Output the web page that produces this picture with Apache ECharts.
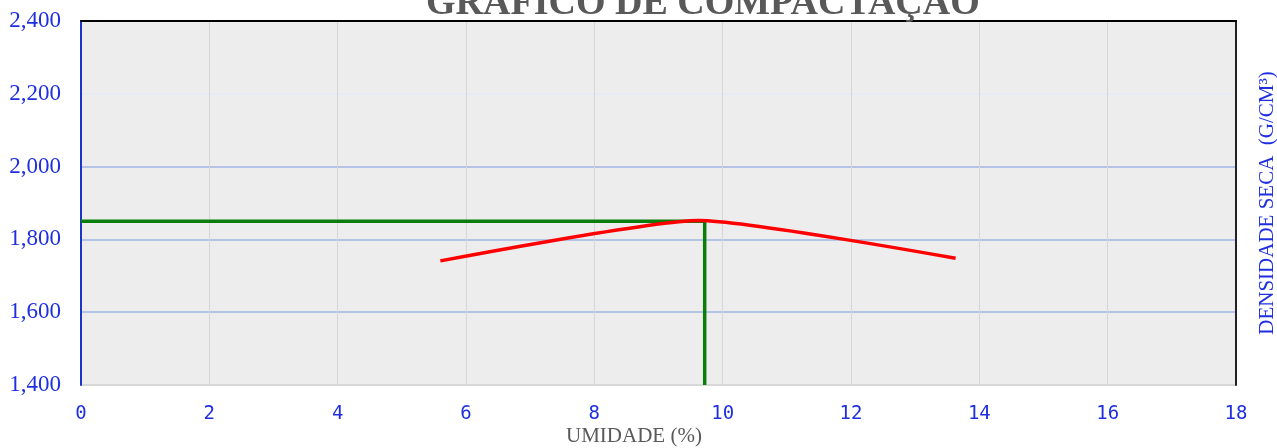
<!DOCTYPE html>
<html>
<head>
<meta charset="utf-8">
<script src="https://cdn.jsdelivr.net/npm/echarts@6/dist/echarts.min.js"></script>
<style>html,body{margin:0;padding:0;background:#fff;}#c{width:1277px;height:448px;}</style>
</head>
<body>
<div id="c"></div>
<script>
// Data
const umidade = [5.6, 9.63, 13.63];
const densidade = [1741, 1852, 1748];
const umidadeOtima = 9.72;
const densidadeMax = 1850;
const xTicks = [0, 2, 4, 6, 8, 10, 12, 14, 16, 18];
const yTicks = [1400, 1600, 1800, 2000, 2200, 2400];
const titleText = 'GRÁFICO DE COMPACTAÇÃO';
const xName = 'UMIDADE (%)';
const yName = 'DENSIDADE SECA  (G/CM³)';

const curve = umidade.map((u, i) => [u, densidade[i]]);
const hLine = [[xTicks[0], densidadeMax], [umidadeOtima, densidadeMax]];
const vLine = [[umidadeOtima, yTicks[0]], [umidadeOtima, densidadeMax]];

const blue = '#1f2fe0';
const chart = echarts.init(document.getElementById('c'));
chart.setOption({
  backgroundColor: '#ffffff',
  animation: false,
  title: {
    text: titleText, left: 421, top: -20,
    textStyle: { fontFamily: 'Liberation Serif', fontWeight: 'bold', fontSize: 38, color: '#595959' }
  },
  grid: { left: 81, right: 41, top: 21, bottom: 63, show: true, backgroundColor: '#ededed', borderWidth: 0, outerBoundsMode: 'none', containLabel: false },
  graphic: [{
    type: 'text', left: 566, top: 426,
    style: { text: xName, font: '21px "Liberation Serif"', fill: '#595959' }
  }],
  xAxis: [{
    type: 'value', min: 0, max: 18, interval: 2,
    axisLine: { show: false }, axisTick: { show: false },
    axisLabel: { margin: 20, color: blue, fontFamily: 'DejaVu Sans Mono', fontSize: 19 },
    splitLine: { show: true, lineStyle: { color: '#d6d6d6', width: 1 } }
  }, {
    type: 'value', position: 'top', min: 0, max: 18,
    axisLine: { show: true, onZero: false, lineStyle: { color: '#000', width: 2 } },
    axisTick: { show: false }, axisLabel: { show: false }, splitLine: { show: false }
  }],
  yAxis: [{
    type: 'value', min: 1400, max: 2400, interval: 200,
    axisLine: { show: true, onZero: false, lineStyle: { color: '#1a35c8', width: 2 } },
    axisTick: { show: false },
    axisLabel: {
      margin: 20, color: blue, fontFamily: 'Liberation Serif', fontSize: 23,
      formatter: v => v.toLocaleString('en-US')
    },
    splitLine: { show: true, lineStyle: { color: ['#d8d8d8', '#b4c4e6', '#b4c4e6', '#b4c4e6', '#e6ebf4', '#000'], width: 2 } }
  }, {
    type: 'value', position: 'right', min: 1400, max: 2400,
    name: yName, nameLocation: 'middle', nameRotate: 90, nameGap: 21,
    nameTextStyle: { color: blue, fontFamily: 'Liberation Serif', fontSize: 21 },
    axisLine: { show: true, onZero: false, lineStyle: { color: '#222', width: 2 } },
    axisTick: { show: false }, axisLabel: { show: false }, splitLine: { show: false }
  }],
  series: [{
    type: 'line', data: hLine, showSymbol: false, lineStyle: { color: '#0a7d0a', width: 3.5 }, z: 3
  }, {
    type: 'line', data: vLine, showSymbol: false, lineStyle: { color: '#0a7d0a', width: 3.5 }, z: 3
  }, {
    type: 'line', data: curve, smooth: 0.18, showSymbol: false, lineStyle: { color: '#ff0000', width: 3.5 }, z: 4
  }]
});
</script>
</body>
</html>
